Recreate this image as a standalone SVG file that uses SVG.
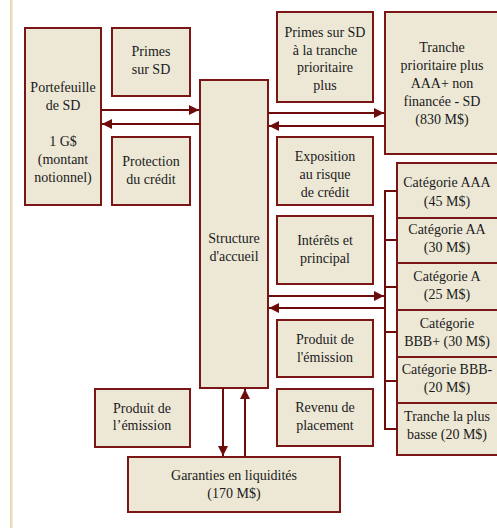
<svg xmlns="http://www.w3.org/2000/svg" width="497" height="529" viewBox="0 0 497 529">
<defs>
<style>
.box{fill:#ede8d6;stroke:#7b1616;stroke-width:2}
.t{font-family:"Liberation Serif","Times New Roman",serif;font-size:14px;fill:#1a1a1a;text-anchor:middle}
.c{fill:none;stroke:#6e0b0b;stroke-width:2}
</style>
<marker id="ah" viewBox="0 0 10 10" refX="10" refY="5" markerWidth="10" markerHeight="10" markerUnits="userSpaceOnUse" orient="auto">
<path d="M0,0 L10,5 L0,10 z" fill="#6e0b0b"/>
</marker>
</defs>
<rect x="0" y="0" width="497" height="529" fill="#ffffff"/>
<rect x="10" y="0" width="2.5" height="528" fill="#e8dcb6"/>

<g id="portefeuille">
<rect class="box" x="25" y="28" width="76" height="177"/>
<text class="t" x="63" y="92">Portefeuille</text>
<text class="t" x="63" y="110">de SD</text>
<text class="t" x="63" y="146">1 G$</text>
<text class="t" x="63" y="164">(montant</text>
<text class="t" x="63" y="182">notionnel)</text>
</g>
<g id="primes-sd">
<rect class="box" x="112" y="28" width="78" height="68"/>
<text class="t" x="151" y="56">Primes</text>
<text class="t" x="151" y="74">sur SD</text>
</g>
<g id="protection">
<rect class="box" x="112" y="137" width="78" height="68"/>
<text class="t" x="151" y="166">Protection</text>
<text class="t" x="151" y="184">du crédit</text>
</g>
<g id="structure">
<rect class="box" x="200" y="80" width="68" height="308"/>
<text class="t" x="234" y="243">Structure</text>
<text class="t" x="234" y="261">d'accueil</text>
</g>
<g id="primes-tranche">
<rect class="box" x="277" y="12" width="96" height="90"/>
<text class="t" x="325" y="37">Primes sur SD</text>
<text class="t" x="325" y="55">à la tranche</text>
<text class="t" x="325" y="72">prioritaire</text>
<text class="t" x="325" y="90">plus</text>
</g>
<g id="tranche-prioritaire">
<rect class="box" x="385" y="12" width="120" height="142"/>
<text class="t" x="442" y="52">Tranche</text>
<text class="t" x="442" y="70">prioritaire plus</text>
<text class="t" x="442" y="88">AAA+ non</text>
<text class="t" x="442" y="106">financée - SD</text>
<text class="t" x="442" y="124">(830 M$)</text>
</g>
<g id="exposition">
<rect class="box" x="277" y="137" width="96" height="68"/>
<text class="t" x="325" y="161">Exposition</text>
<text class="t" x="325" y="179">au risque</text>
<text class="t" x="325" y="197">de crédit</text>
</g>
<g id="interets">
<rect class="box" x="277" y="216" width="96" height="68"/>
<text class="t" x="325" y="245">Intérêts et</text>
<text class="t" x="325" y="263">principal</text>
</g>
<g id="produit-droite">
<rect class="box" x="277" y="320" width="96" height="57"/>
<text class="t" x="325" y="344">Produit de</text>
<text class="t" x="325" y="362">l'émission</text>
</g>
<g id="revenu">
<rect class="box" x="277" y="389" width="96" height="57"/>
<text class="t" x="325" y="412">Revenu de</text>
<text class="t" x="325" y="430">placement</text>
</g>
<g id="cat-aaa">
<rect class="box" x="397" y="163" width="108" height="55"/>
<text class="t" x="447" y="187">Catégorie AAA</text>
<text class="t" x="447" y="206">(45 M$)</text>
</g>
<g id="cat-aa">
<rect class="box" x="397" y="218" width="108" height="45"/>
<text class="t" x="447" y="234">Catégorie AA</text>
<text class="t" x="447" y="252">(30 M$)</text>
</g>
<g id="cat-a">
<rect class="box" x="397" y="263" width="108" height="47"/>
<text class="t" x="447" y="281">Catégorie A</text>
<text class="t" x="447" y="299">(25 M$)</text>
</g>
<g id="cat-bbbplus">
<rect class="box" x="397" y="310" width="108" height="47"/>
<text class="t" x="447" y="328">Catégorie</text>
<text class="t" x="447" y="346">BBB+ (30 M$)</text>
</g>
<g id="cat-bbbminus">
<rect class="box" x="397" y="357" width="108" height="46"/>
<text class="t" x="447" y="374">Catégorie BBB-</text>
<text class="t" x="447" y="392">(20 M$)</text>
</g>
<g id="tranche-basse">
<rect class="box" x="397" y="403" width="108" height="52"/>
<text class="t" x="447" y="421">Tranche la plus</text>
<text class="t" x="447" y="439">basse (20 M$)</text>
</g>
<g id="produit-gauche">
<rect class="box" x="95" y="389" width="95" height="58"/>
<text class="t" x="142" y="413">Produit de</text>
<text class="t" x="142" y="430">l’émission</text>
</g>
<g id="garanties">
<rect class="box" x="128" y="457" width="212" height="55"/>
<text class="t" x="234" y="480">Garanties en liquidités</text>
<text class="t" x="234" y="498">(170 M$)</text>
</g>

<g id="connectors">
<path class="c" d="M101,110 H199" marker-end="url(#ah)"/>
<path class="c" d="M200,124 H102" marker-end="url(#ah)"/>
<path class="c" d="M268,113 H384" marker-end="url(#ah)"/>
<path class="c" d="M385,126 H269" marker-end="url(#ah)"/>
<path class="c" d="M268,296 H384" marker-end="url(#ah)"/>
<path class="c" d="M385,308 H269" marker-end="url(#ah)"/>
<path class="c" d="M223,388 V456" marker-end="url(#ah)"/>
<path class="c" d="M245,457 V389" marker-end="url(#ah)"/>
<path class="c" d="M397,191 H385 V429 H397 M385,240 H397 M385,287 H397 M385,332 H397 M385,381 H397"/>
</g>
</svg>
